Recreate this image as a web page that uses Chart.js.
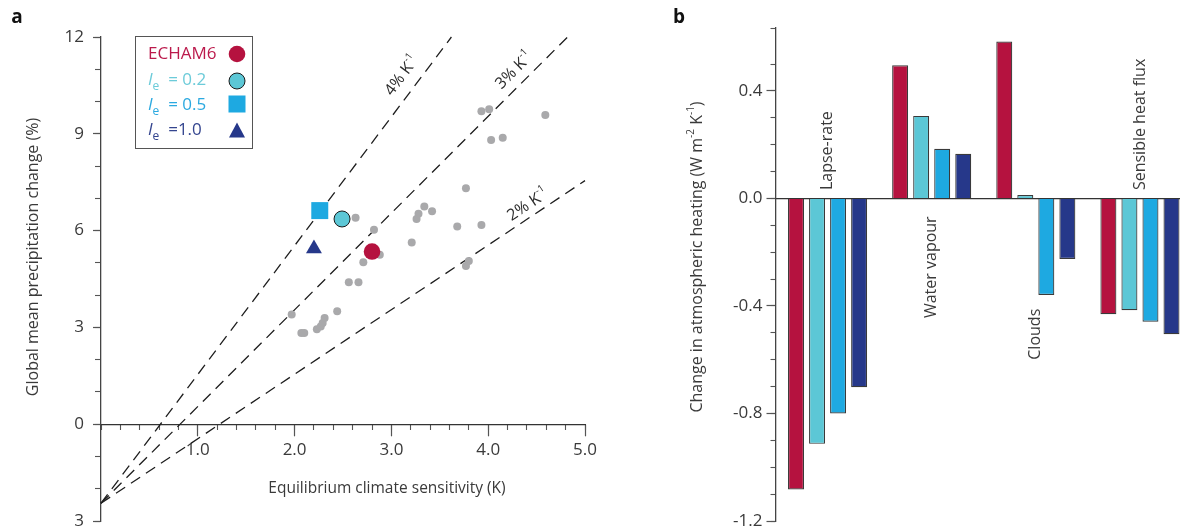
<!DOCTYPE html>
<html><head><meta charset="utf-8">
<script src="https://cdn.jsdelivr.net/npm/chart.js@4/dist/chart.umd.min.js"></script>
<style>
html,body{margin:0;padding:0;background:#fff;overflow:hidden;width:1180px;height:530px;position:relative;}
#wrapA{position:absolute;left:0;top:0;width:620px;height:530px;}
#wrapB{position:absolute;left:620px;top:0;width:600px;height:530px;}
canvas{display:block;}
</style></head><body>
<div id="wrapA"><canvas id="chartA" width="620" height="530"></canvas></div>
<div id="wrapB"><canvas id="chartB" width="600" height="530"></canvas></div>
<script>
// ---------- Panel a data ----------
const grayECS    = [3.93, 4.01, 4.59, 4.03, 4.15, 3.77, 3.34, 3.42, 3.28, 3.26, 3.68, 3.93, 2.63, 2.82, 3.21, 2.88, 2.71, 3.80, 3.77, 2.56, 2.66, 1.97, 2.07, 2.10, 2.23, 2.27, 2.29, 2.31, 2.44];
const grayPrecip = [9.70, 9.76, 9.58, 8.81, 8.88, 7.31, 6.75, 6.60, 6.52, 6.36, 6.13, 6.17, 6.40, 6.03, 5.63, 5.25, 5.02, 5.06, 4.90, 4.40, 4.40, 3.40, 2.83, 2.83, 2.94, 3.03, 3.14, 3.29, 3.50];
const echamECS = [2.80], echamPrecip = [5.35];
const ie02ECS  = [2.49], ie02Precip  = [6.36];
const ie05ECS  = [2.26], ie05Precip  = [6.62];
const ie10ECS  = [2.20], ie10Precip  = [5.44];
const line4ECS = [0, 3.62], line4Precip = [-2.45, 12];
const line3ECS = [0, 4.82], line3Precip = [-2.45, 12];
const line2ECS = [0, 5.00], line2Precip = [-2.45, 7.55];
const xTicksA = [1, 2, 3, 4, 5];
const xTickLabelsA = ['1.0', '2.0', '3.0', '4.0', '5.0'];
const yTicksA = [-3, 0, 3, 6, 9, 12];
const yTickLabelsA = ['3', '0', '3', '6', '9', '12'];

// ---------- Panel b data ----------
const categoriesB = ['Lapse-rate', 'Water vapour', 'Clouds', 'Sensible heat flux'];
const echamB = [-1.083, 0.495, 0.584, -0.431];
const ie02B  = [-0.913, 0.307, 0.013, -0.416];
const ie05B  = [-0.800, 0.185, -0.359, -0.459];
const ie10B  = [-0.702, 0.166, -0.225, -0.505];
const yTicksB = [-1.2, -0.8, -0.4, 0.0, 0.4];
const yTickLabelsB = ['-1.2', '-0.8', '-0.4', '0.0', '0.4'];

const RED = '#b5123f', CYAN = '#5cc7d6', BLUE = '#1ea9e1', NAVY = '#26388a', GRAY = '#a9a9ab';
const TXT = '#3a3a3a';
Chart.defaults.font.family = '"Open Sans", sans-serif';
Chart.defaults.color = TXT;

const pts = (xs, ys) => xs.map((x, i) => ({x: x, y: ys[i]}));
const noPadX = s => { s.height = 0; s.paddingLeft = 0; s.paddingRight = 0; s.paddingTop = 0; s.paddingBottom = 0; };
const noPadY = w => s => { s.width = w; s.paddingTop = 0; s.paddingBottom = 0; s.paddingLeft = 0; s.paddingRight = 0; };

function drawRuns(ctx, runs, x, y, angle, align) {
  ctx.save();
  ctx.translate(x, y);
  ctx.rotate(angle);
  ctx.textBaseline = 'middle';
  ctx.textAlign = 'left';
  let total = 0; const w = [];
  runs.forEach(r => { ctx.font = r.f; const m = ctx.measureText(r.t).width; w.push(m); total += m; });
  let cx = align === 'center' ? -total / 2 : (align === 'right' ? -total : 0);
  runs.forEach((r, i) => { ctx.font = r.f; ctx.fillStyle = r.c || ctx.fillStyle; ctx.fillText(r.t, cx, r.dy || 0); cx += w[i]; });
  ctx.restore();
}

const annotA = {
  id: 'annotA',
  afterDraw(chart) {
    const ctx = chart.ctx, xs = chart.scales.x, ys = chart.scales.y;
    ctx.save();
    ctx.fillStyle = '#111';
    ctx.font = 'bold 19px "Open Sans"';
    ctx.textAlign = 'center'; ctx.textBaseline = 'middle';
    ctx.fillText('a', 17, 18);
    ctx.fillStyle = TXT;
    ctx.font = '15.5px "Open Sans"';
    ctx.fillText('Equilibrium climate sensitivity (K)', 387, 489);
    drawRuns(ctx, [{t: 'Global mean precipitation change (%)', f: '16px "Open Sans"'}], 33, 257, -Math.PI / 2, 'center');
    // line labels
    const lines = [
      {xs: line4ECS, ys: line4Precip, lab: '4% K', at: [3.11, 10.8]},
      {xs: line3ECS, ys: line3Precip, lab: '3% K', at: [4.27, 10.96]},
      {xs: line2ECS, ys: line2Precip, lab: '2% K', at: [4.41, 6.80]}
    ];
    lines.forEach(L => {
      const x0 = xs.getPixelForValue(L.xs[0]), y0 = ys.getPixelForValue(L.ys[0]);
      const x1 = xs.getPixelForValue(L.xs[1]), y1 = ys.getPixelForValue(L.ys[1]);
      const ang = Math.atan2(y1 - y0, x1 - x0);
      ctx.fillStyle = '#2a2a2a';
      drawRuns(ctx, [{t: L.lab, f: '16px "Open Sans"'}, {t: '-1', f: '10px "Open Sans"', dy: -6}],
        xs.getPixelForValue(L.at[0]), ys.getPixelForValue(L.at[1]), ang, 'center');
    });
    // legend box
    ctx.strokeStyle = '#555'; ctx.lineWidth = 1;
    ctx.strokeRect(135.5, 36.5, 117, 112);
    const rows = [
      {y: 54, c: '#bb1a4c', runs: [{t: 'ECHAM6', f: '17px "Open Sans"'}]},
      {y: 80, c: '#6ccbd9', runs: [{t: 'I', f: 'italic 17px "Open Sans"'}, {t: 'e', f: '12px "Open Sans"', dy: 7}, {t: '  = 0.2', f: '17px "Open Sans"'}]},
      {y: 105, c: '#2ba9e0', runs: [{t: 'I', f: 'italic 17px "Open Sans"'}, {t: 'e', f: '12px "Open Sans"', dy: 7}, {t: '  = 0.5', f: '17px "Open Sans"'}]},
      {y: 130, c: '#34458f', runs: [{t: 'I', f: 'italic 17px "Open Sans"'}, {t: 'e', f: '12px "Open Sans"', dy: 7}, {t: '  =1.0', f: '17px "Open Sans"'}]}
    ];
    rows.forEach(r => { ctx.fillStyle = r.c; drawRuns(ctx, r.runs, 148, r.y, 0, 'left'); });
    // legend markers
    ctx.fillStyle = RED; ctx.beginPath(); ctx.arc(237, 54, 8.3, 0, Math.PI * 2); ctx.fill();
    ctx.fillStyle = CYAN; ctx.strokeStyle = '#1a1a1a'; ctx.lineWidth = 1;
    ctx.beginPath(); ctx.arc(237, 81, 8, 0, Math.PI * 2); ctx.fill(); ctx.stroke();
    ctx.fillStyle = BLUE; ctx.fillRect(228.5, 95.5, 17, 17);
    ctx.fillStyle = NAVY; ctx.beginPath(); ctx.moveTo(237, 122.5); ctx.lineTo(245, 137.5); ctx.lineTo(229, 137.5); ctx.closePath(); ctx.fill();
    ctx.restore();
  }
};

const lineDs = (lab, xs, ys) => ({
  type: 'line', label: lab, data: pts(xs, ys), borderColor: '#1e1e1e', borderWidth: 1.3,
  borderDash: [11, 7], pointRadius: 0, showLine: true, fill: false, order: 3, clip: false
});

new Chart(document.getElementById('chartA'), {
  type: 'scatter',
  data: {
    datasets: [
      {label: 'ECHAM6', data: pts(echamECS, echamPrecip), pointRadius: 8.3, backgroundColor: RED, borderWidth: 0, order: 1},
      {label: 'Ie = 0.2', data: pts(ie02ECS, ie02Precip), pointRadius: 8, backgroundColor: CYAN, borderColor: '#1a1a1a', borderWidth: 1, order: 1},
      {label: 'Ie = 0.5', data: pts(ie05ECS, ie05Precip), pointStyle: 'rect', pointRadius: 12, backgroundColor: BLUE, borderWidth: 0, order: 1},
      {label: 'Ie = 1.0', data: pts(ie10ECS, ie10Precip), pointStyle: 'triangle', pointRadius: 9.2, backgroundColor: NAVY, borderWidth: 0, order: 1},
      {label: 'Other models', data: pts(grayECS, grayPrecip), pointRadius: 4, backgroundColor: GRAY, borderWidth: 0, order: 2},
      lineDs('4% K-1', line4ECS, line4Precip),
      lineDs('3% K-1', line3ECS, line3Precip),
      lineDs('2% K-1', line2ECS, line2Precip)
    ]
  },
  options: {
    responsive: false, animation: false, events: [],
    layout: {autoPadding: false, padding: {left: 0, right: 35, top: 37, bottom: 9}},
    plugins: {legend: {display: false}, tooltip: {enabled: false}},
    scales: {
      x: {
        type: 'linear', min: 0, max: 5, position: {y: 0},
        afterFit: noPadX,
        afterBuildTicks(s) { s.ticks = xTicksA.map(v => ({value: v})); },
        ticks: {callback: (v, i) => xTickLabelsA[i], font: {size: 17}, color: TXT, padding: 5, maxRotation: 0, autoSkip: false},
        grid: {display: true, drawOnChartArea: false, tickLength: 11, tickColor: '#555', tickWidth: 1.2},
        border: {display: true, color: '#333', width: 1.3}
      },
      x2: {
        type: 'linear', min: 0, max: 5, position: {y: 0}, axis: 'x',
        afterFit: noPadX,
        ticks: {display: false, stepSize: 0.2},
        grid: {display: true, drawOnChartArea: false, tickLength: 6, tickColor: '#555', tickWidth: 1.1},
        border: {display: false}
      },
      y: {
        type: 'linear', min: -3, max: 12, position: 'left', weight: 10,
        afterFit: noPadY(101),
        afterBuildTicks(s) { s.ticks = yTicksA.map(v => ({value: v})); },
        ticks: {callback: (v, i) => yTickLabelsA[i], font: {size: 17}, color: TXT, padding: 9, autoSkip: false},
        grid: {display: true, drawOnChartArea: false, tickLength: 8, tickColor: '#555', tickWidth: 1.2},
        border: {display: true, color: '#444', width: 1.3}
      },
      y2: {
        type: 'linear', min: -3, max: 12, position: 'left', weight: 0, axis: 'y',
        afterFit: noPadY(0),
        ticks: {display: false, stepSize: 1},
        grid: {display: true, drawOnChartArea: false, tickLength: 6, tickColor: '#555', tickWidth: 1.1},
        border: {display: false}
      }
    }
  },
  plugins: [annotA]
});

// ---------- Panel b ----------
const annotB = {
  id: 'annotB',
  afterDraw(chart) {
    const ctx = chart.ctx, xs = chart.scales.x, ys = chart.scales.y;
    ctx.save();
    ctx.fillStyle = '#111';
    ctx.font = 'bold 19px "Open Sans"';
    ctx.textAlign = 'center'; ctx.textBaseline = 'middle';
    ctx.fillText('b', 59, 18);
    ctx.fillStyle = TXT;
    const F = '16px "Open Sans"', S = '10px "Open Sans"';
    drawRuns(ctx, [{t: 'Change in atmospheric heating (W m', f: F}, {t: '-2', f: S, dy: -6}, {t: ' K', f: F}, {t: '-1', f: S, dy: -6}, {t: ')', f: F}],
      77, 257, -Math.PI / 2, 'center');
    const anchors = [0.031, -0.445, -0.60, 0.031];
    categoriesB.forEach((c, i) => {
      drawRuns(ctx, [{t: c, f: '16px "Open Sans"'}], xs.getPixelForValue(i), ys.getPixelForValue(anchors[i]), -Math.PI / 2, 'left');
    });
    ctx.restore();
  }
};

const barDs = (lab, vals, col) => ({label: lab, data: vals, backgroundColor: col, borderColor: '#3a3a3a', borderWidth: 1.2});

new Chart(document.getElementById('chartB'), {
  type: 'bar',
  data: {
    labels: categoriesB,
    datasets: [
      barDs('ECHAM6', echamB, RED),
      barDs('Ie = 0.2', ie02B, CYAN),
      barDs('Ie = 0.5', ie05B, BLUE),
      barDs('Ie = 1.0', ie10B, NAVY)
    ]
  },
  options: {
    responsive: false, animation: false, events: [],
    layout: {autoPadding: false, padding: {left: 0, right: 28, top: 28, bottom: 9}},
    datasets: {bar: {categoryPercentage: 0.808, barPercentage: 0.76}},
    plugins: {legend: {display: false}, tooltip: {enabled: false}},
    scales: {
      x: {
        type: 'category', position: {y: 0}, offset: true,
        afterFit: noPadX,
        ticks: {display: false},
        grid: {display: false, offset: true},
        border: {display: true, color: '#333', width: 1.2}
      },
      y: {
        type: 'linear', min: -1.2, max: 0.634, position: 'left', weight: 10,
        afterFit: noPadY(155.5),
        afterBuildTicks(s) { s.ticks = yTicksB.map(v => ({value: v})); },
        ticks: {callback: (v, i) => yTickLabelsB[i], font: {size: 17}, color: TXT, padding: 4, autoSkip: false},
        grid: {display: true, drawOnChartArea: false, tickLength: 9, tickColor: '#555', tickWidth: 1.2},
        border: {display: true, color: '#444', width: 1.3}
      },
      y2: {
        type: 'linear', min: -1.2, max: 0.634, position: 'left', weight: 0, axis: 'y',
        afterFit: noPadY(0),
        afterBuildTicks(s) { s.ticks = s.ticks.filter(t => t.value < 0.55 || t.value > 0.625); },
        ticks: {display: false, stepSize: 0.1},
        grid: {display: true, drawOnChartArea: false, tickLength: 5, tickColor: '#555', tickWidth: 1.1},
        border: {display: false}
      }
    }
  },
  plugins: [annotB]
});
</script>
</body></html>
